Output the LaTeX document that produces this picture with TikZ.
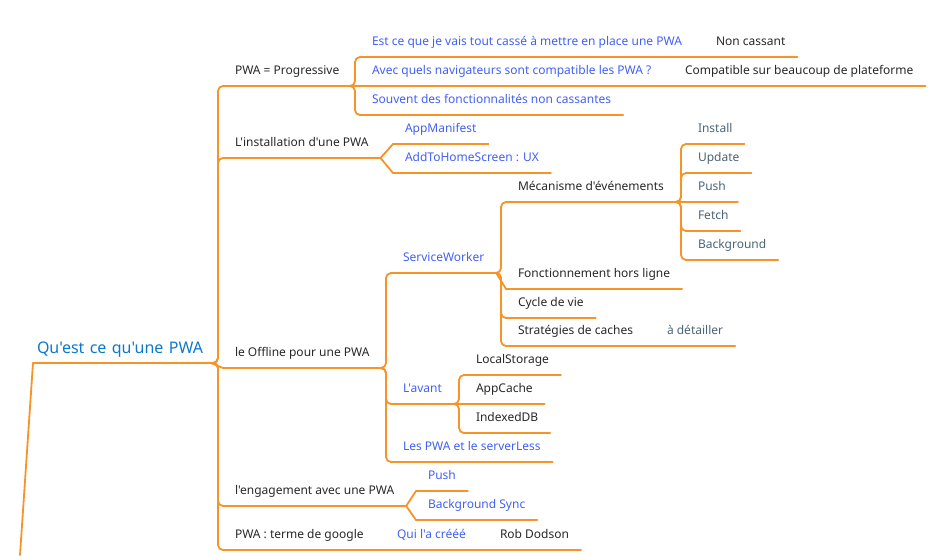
\documentclass[tikz,border=0pt]{standalone}
\usepackage{fontspec}
\setmainfont{Noto Sans}[Ligatures=TeXOff]
\definecolor{pwaorange}{RGB}{247,148,40}
\definecolor{pwaroot}{RGB}{12,120,205}
\definecolor{pwablue}{RGB}{66,96,245}
\definecolor{pwadark}{RGB}{40,40,40}
\definecolor{pwagrey}{RGB}{74,100,118}

\begin{document}
\begin{tikzpicture}
		[x=1pt,y=-1pt]
			\tikzstyle{every node}=[anchor=south west, inner xsep=12pt, inner ysep=9pt,
		text height=9pt, text depth=3pt, outer sep=0pt, font=\fontsize{12}{14}\selectfont]
			\tikzstyle{rootnode}=[inner xsep=4pt, inner ysep=6pt, text width=170pt, align=left,
		text height=12pt, text depth=4pt, text=pwaroot, font=\fontsize{16}{19}\selectfont]
			\tikzstyle{bluenode}=[text=pwablue]
			\tikzstyle{darknode}=[text=pwadark]
			\tikzstyle{greynode}=[text=pwagrey]
			\tikzstyle{topicline}=[draw=pwaorange, line width=1.8pt, line cap=round, line join=round]
		\useasboundingbox (0,0) rectangle (945,555);
		%-----root
		 \node[rootnode] (root) at (33,363) {Qu'est ce qu'une PWA};
		 \coordinate (tail) at (20,555);
		%-----level 1
		 \node[darknode] (prog) at (223,86) {PWA = Progressive};
		 \node[darknode] (inst) at (223,158) {L'installation d'une PWA};
		 \node[darknode] (offl) at (223,368) {le Offline pour une PWA};
		 \node[darknode] (enga) at (223,506) {l'engagement avec une PWA};
		 \node[darknode] (goog) at (223,550) {PWA : terme de google};
		%-----progressive
		 \node[bluenode] (cass) at (360,57) {Est ce que je vais tout cassé à mettre en place une PWA};
		 \node[darknode] (noncass) at (704,57) {Non cassant};
		 \node[bluenode] (navi) at (360,86) {Avec quels navigateurs sont compatible les PWA ?};
		 \node[darknode] (compat) at (673,86) {Compatible sur beaucoup de plateforme};
		 \node[bluenode] (fonct) at (360,115) {Souvent des fonctionnalités non cassantes};
		%-----installation
		 \node[bluenode] (mani) at (393,144) {AppManifest};
		 \node[bluenode] (home) at (393,173) {AddToHomeScreen : UX};
		%-----offline
		 \node[bluenode] (sw) at (391,273) {ServiceWorker};
		 \node[bluenode] (avant) at (391,404) {L'avant};
		 \node[bluenode] (sless) at (391,462) {Les PWA et le serverLess};
		%-----serviceworker
		 \node[darknode] (meca) at (506,202) {Mécanisme d'événements};
		 \node[darknode] (hors) at (506,289) {Fonctionnement hors ligne};
		 \node[darknode] (cycle) at (506,318) {Cycle de vie};
		 \node[darknode] (strat) at (506,346) {Stratégies de caches};
		 \node[greynode] (detail) at (655,346) {à détailler};
		%-----events
		 \node[greynode] (install) at (686,144) {Install};
		 \node[greynode] (update) at (686,173) {Update};
		 \node[greynode] (push) at (686,202) {Push};
		 \node[greynode] (fetch) at (686,231) {Fetch};
		 \node[greynode] (backg) at (686,260) {Background};
		%-----avant
		 \node[darknode] (local) at (464,375) {LocalStorage};
		 \node[darknode] (appc) at (464,404) {AppCache};
		 \node[darknode] (idb) at (464,433) {IndexedDB};
		%-----engagement
		 \node[bluenode] (epush) at (416,491) {Push};
		 \node[bluenode] (esync) at (416,520) {Background Sync};
		%-----google
		 \node[bluenode] (qui) at (385,550) {Qui l'a crééé};
		 \node[darknode] (rob) at (488,550) {Rob Dodson};
		 
		 
		 \foreach \n in {root,prog,inst,offl,enga,goog,cass,noncass,navi,compat,fonct,mani,home,sw,avant,sless,meca,hors,cycle,strat,detail,install,update,push,fetch,backg,local,appc,idb,epush,esync,qui,rob}
		 \draw[topicline] (\n.south west) -- (\n.south east);
		 
		 \foreach \from/\to in {root/prog,root/inst,root/enga,root/goog,prog/cass,prog/fonct,offl/sw,offl/avant,offl/sless,sw/meca,sw/cycle,sw/strat,meca/install,meca/update,meca/fetch,meca/backg,avant/local,avant/idb}
		 \draw[topicline, rounded corners=5pt] (\from.south east) -| ([xshift=-5pt]\to.south west) -- (\to.south west);
		 
		 \foreach \from/\to in {root/offl,prog/navi,cass/noncass,navi/compat,inst/mani,inst/home,sw/hors,strat/detail,meca/push,avant/appc,enga/epush,enga/esync,goog/qui,qui/rob}
		 \draw[topicline] (\from.south east) -- (\to.south west);
		 
		 \draw[topicline] (root.south west) -- (tail);
		 
		 	\end{tikzpicture}
\end{document}
